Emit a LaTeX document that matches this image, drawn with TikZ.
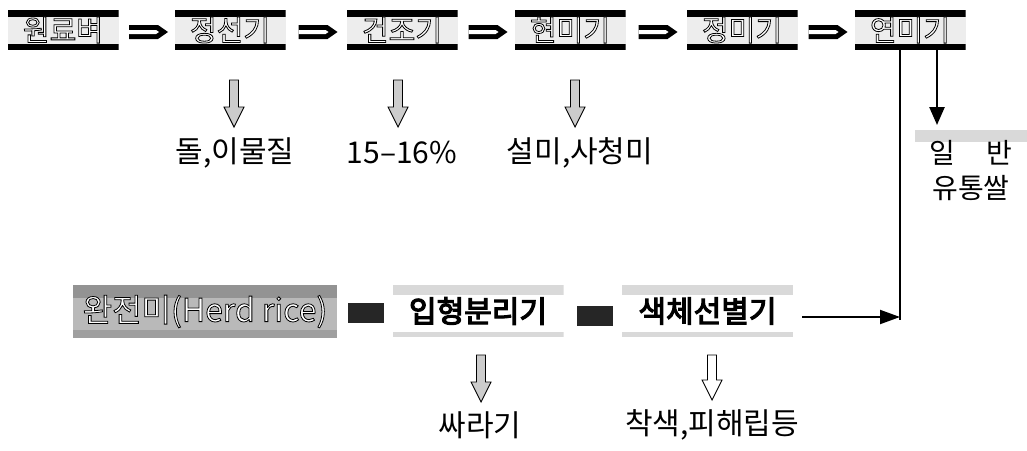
\documentclass[tikz,border=0pt]{standalone}
\usepackage{fontspec}
\setmainfont{Noto Sans CJK KR}[AutoFakeBold=4]
\usetikzlibrary{arrows.meta,calc}
\newcommand\hollowtext[1]{\special{pdf:literal direct 0 G 2 Tr 0.8 w}#1\special{pdf:literal direct 0 Tr}}
\newcommand\fatarrow[2]{%
  \coordinate (m) at ($($(#1.east)!0.5!(#2.west)$)+(2,2)$);
  \fill[black] (m) ++(-19.5,-7) -- ++(29,0) -- ++(10,7) -- ++(-10,7) -- ++(-29,0) -- cycle;
  \fill[white] (m) ++(-19.5,-2) -- ++(27,0) -- ++(3,2) -- ++(-3,2) -- ++(-27,0) -- cycle;}
\newcommand\dnarrow[4]{%
  \draw[line width=0.9pt, fill=#4, line join=miter]
    ({#1-4.5},#2) -- ({#1+4.5},#2) -- ({#1+4.5},{#3-20}) -- ({#1+10},{#3-20}) -- (#1,#3)
    -- ({#1-10},{#3-20}) -- ({#1-4.5},{#3-20}) -- cycle;}
\tikzset{
  topbox/.style={minimum width=111pt, minimum height=40pt, inner sep=0pt, fill=gray!14,
    text=white, font=\fontsize{29}{31}\selectfont,
    path picture={\fill[black] (path picture bounding box.north west) rectangle ([yshift=-7pt]path picture bounding box.north east);
      \fill[black] (path picture bounding box.south west) rectangle ([yshift=6pt]path picture bounding box.south east);}},
  wbox/.style={minimum width=264pt, minimum height=53pt, inner sep=0pt, fill=gray!55,
    text=white, font=\fontsize{32}{34}\selectfont,
    path picture={\fill[gray!85] (path picture bounding box.north west) rectangle ([yshift=-13pt]path picture bounding box.north east);
      \fill[gray!75] (path picture bounding box.south west) rectangle ([yshift=8pt]path picture bounding box.south east);}},
  bbox/.style={minimum width=171pt, minimum height=52pt, inner sep=0pt, fill=white,
    font=\fontsize{30}{32}\selectfont\bfseries,
    path picture={\fill[gray!30] (path picture bounding box.north west) rectangle ([yshift=-10pt]path picture bounding box.north east);
      \fill[gray!30] (path picture bounding box.south west) rectangle ([yshift=5pt]path picture bounding box.south east);}},
  blk/.style={fill=black!85, minimum width=36pt, minimum height=20pt, inner sep=0pt},
  lbl/.style={font=\fontsize{30}{32}\selectfont, inner sep=0pt},
  ilbox/.style={minimum width=112pt, minimum height=82pt, inner sep=0pt, align=center,
    font=\fontsize{28}{35}\selectfont,
    path picture={\fill[gray!30] (path picture bounding box.north west) rectangle ([yshift=-12pt]path picture bounding box.north east);}},
  conn/.style={line width=2.5pt}
}
\begin{document}
\begin{tikzpicture}[x=1pt,y=-1pt]
\useasboundingbox (0,0) rectangle (1027,450);
\fill[white] (0,0) rectangle (1027,450);
% top row
\node[topbox] (t1) at (63,30)  {\raisebox{-1.5pt}{\hollowtext{원료벼}}};
\node[topbox] (t2) at (230,30) {\raisebox{-1.5pt}{\hollowtext{정선기}}};
\node[topbox] (t3) at (402,30) {\raisebox{-1.5pt}{\hollowtext{건조기}}};
\node[topbox] (t4) at (570,30) {\raisebox{-1.5pt}{\hollowtext{현미기}}};
\node[topbox] (t5) at (742,30) {\raisebox{-1.5pt}{\hollowtext{정미기}}};
\node[topbox] (t6) at (910,30) {\raisebox{-1.5pt}{\hollowtext{연미기}}};
\fatarrow{t1}{t2}
\fatarrow{t2}{t3}
\fatarrow{t3}{t4}
\fatarrow{t4}{t5}
\fatarrow{t5}{t6}
% top outputs
\dnarrow{234}{80}{127}{gray!40}
\dnarrow{398}{80}{127}{gray!40}
\dnarrow{575}{80}{127}{gray!40}
\node[lbl] (l1) at (235,153) {돌,이물질};
\node[lbl] (l2) at (402,153) {15–16\%};
\node[lbl] (l3) at (580,153) {설미,사청미};
% right branch
\node[ilbox] (ilban) at (971,171) {일\hspace{1.1em}반\\유통쌀};
\coordinate (vtop) at ([xshift=-10pt]t6.south);
\coordinate (vbot) at (900,320);
\draw[conn] (vtop) -- (vbot);
\coordinate (atop) at ([xshift=27pt]t6.south);
\draw[conn, -{Triangle[length=18pt,width=15pt]}] (atop) -- (atop |- {(0,125)});
% bottom row
\node[wbox] (w) at (205,311.5) {\raisebox{-2pt}{\hollowtext{완전미(Herd rice)}}};
\node[blk] (k1) at (365.5,313) {};
\node[bbox] (s1) at (478,311) {\raisebox{-4pt}{입형분리기}};
\node[blk] (k2) at (595,316) {};
\node[bbox] (s2) at (707.5,311) {\raisebox{-4pt}{색체선별기}};
\draw[line width=2pt, -{Triangle[length=20pt,width=14pt]}] ([xshift=9pt,yshift=-6pt]s2.east) -- ([yshift=-6pt]s2.east -| vbot);
\dnarrow{481}{355}{402}{gray!40}
\dnarrow{712}{355}{400}{white}
\node[lbl] (l4) at (480,425) {싸라기};
\node[lbl] (l5) at (712,425) {착색,피해립등};
\end{tikzpicture}
\end{document}
